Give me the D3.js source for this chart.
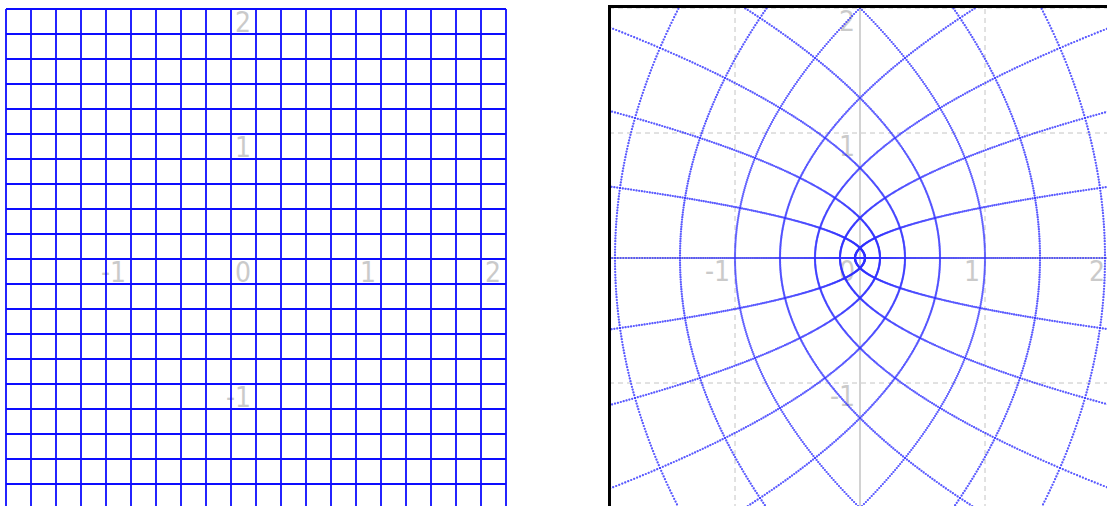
<!DOCTYPE html>
<html>
<head>
<meta charset="utf-8">
<script src="https://cdn.jsdelivr.net/npm/d3@7"></script>
<style>
  body { margin: 0; background: #fff; }
  svg { display: block; }
  .lbl { font-family: "Liberation Sans Narrow", "DejaVu Sans Condensed", sans-serif; font-size: 28px; fill: #cacaca; }
</style>
</head>
<body>
<div id="chart"></div>
<script>
// grid line positions in the z plane (step 0.2)
var gridValues = [-2, -1.8, -1.6, -1.4, -1.2, -1, -0.8, -0.6, -0.4, -0.2, 0,
                  0.2, 0.4, 0.6, 0.8, 1, 1.2, 1.4, 1.6, 1.8, 2];
// axis labels
var xTickLabels = [-1, 0, 1, 2];
var yTickLabels = [2, 1, -1];
// dashed reference lines of the w plane
var refLines = [-2, -1, 1, 2];
// sampling step along each grid line (one pixel of the left panel)
var step = 0.008;

var W = 1107, H = 506;
var svg = d3.select("#chart").append("svg")
  .attr("width", W)
  .attr("height", H);

// ---- left panel: z plane
var xL = d3.scaleLinear().domain([-2, 2]).range([6, 506]);
var yL = d3.scaleLinear().domain([-2, 2]).range([509, 9]);

var left = svg.append("g");

function addLabels(g, x, y) {
  g.selectAll("text.xl")
    .data(xTickLabels)
    .enter().append("text")
      .attr("class", "lbl xl")
      .attr("x", function(d) { return x(d) - 5; })
      .attr("y", y(0) + 23)
      .attr("text-anchor", "end")
      .text(function(d) { return d; });
  g.selectAll("text.yl")
    .data(yTickLabels)
    .enter().append("text")
      .attr("class", "lbl yl")
      .attr("x", x(0) - 5)
      .attr("y", function(d) { return y(d) + 23; })
      .attr("text-anchor", "end")
      .text(function(d) { return d; });
}

addLabels(left, xL, yL);

left.selectAll("line.v")
  .data(gridValues)
  .enter().append("line")
    .attr("class", "v")
    .attr("x1", function(d) { return xL(d); })
    .attr("x2", function(d) { return xL(d); })
    .attr("y1", yL(2))
    .attr("y2", yL(-2))
    .attr("stroke", "#0d0dff")
    .attr("stroke-width", 1.8);

left.selectAll("line.h")
  .data(gridValues)
  .enter().append("line")
    .attr("class", "h")
    .attr("y1", function(d) { return yL(d); })
    .attr("y2", function(d) { return yL(d); })
    .attr("x1", xL(-2))
    .attr("x2", xL(2))
    .attr("stroke", "#0d0dff")
    .attr("stroke-width", 1.8);

// ---- right panel: w = z^2
var xR = d3.scaleLinear().domain([-2, 2]).range([610, 1110]);
var yR = d3.scaleLinear().domain([-2, 2]).range([508, 8]);

svg.append("clipPath").attr("id", "clipR")
  .append("rect")
    .attr("x", 611).attr("y", 8)
    .attr("width", 600).attr("height", 600);

var right = svg.append("g").attr("clip-path", "url(#clipR)");

// dashed reference grid
right.selectAll("line.rv")
  .data(refLines)
  .enter().append("line")
    .attr("x1", function(d) { return xR(d); })
    .attr("x2", function(d) { return xR(d); })
    .attr("y1", 0).attr("y2", H)
    .attr("stroke", "#c4c4c4")
    .attr("stroke-dasharray", "5,4");
right.selectAll("line.rh")
  .data(refLines)
  .enter().append("line")
    .attr("y1", function(d) { return yR(d); })
    .attr("y2", function(d) { return yR(d); })
    .attr("x1", 600).attr("x2", W)
    .attr("stroke", "#c4c4c4")
    .attr("stroke-dasharray", "5,4");

// axes
right.append("line")
  .attr("x1", xR(0)).attr("x2", xR(0))
  .attr("y1", 0).attr("y2", H)
  .attr("stroke", "#d2d2d2").attr("stroke-width", 2);
right.append("line")
  .attr("y1", yR(0)).attr("y2", yR(0))
  .attr("x1", 600).attr("x2", W)
  .attr("stroke", "#d2d2d2").attr("stroke-width", 2);

addLabels(right, xR, yR);

// map every sampled point of the z grid through w = z^2
var ts = d3.range(-2, 2 + step / 2, step);
var pts = [];
gridValues.forEach(function(c) {
  ts.forEach(function(t) {
    // vertical line x = c
    pts.push([c * c - t * t, 2 * c * t]);
    // horizontal line y = c
    pts.push([t * t - c * c, 2 * t * c]);
  });
});
pts = pts.filter(function(p) {
  return p[0] >= -2.02 && p[0] <= 2.02 && p[1] >= -2.02 && p[1] <= 2.02;
});

right.selectAll("circle")
  .data(pts)
  .enter().append("circle")
    .attr("cx", function(d) { return xR(d[0]); })
    .attr("cy", function(d) { return yR(d[1]); })
    .attr("r", 1.1)
    .attr("fill", "#3030ff")
    .attr("fill-opacity", 0.55);

// frame of right panel
svg.append("rect")
  .attr("x", 609.5).attr("y", 6.5)
  .attr("width", 600).attr("height", 600)
  .attr("fill", "none")
  .attr("stroke", "#000")
  .attr("stroke-width", 3);
</script>
</body>
</html>
